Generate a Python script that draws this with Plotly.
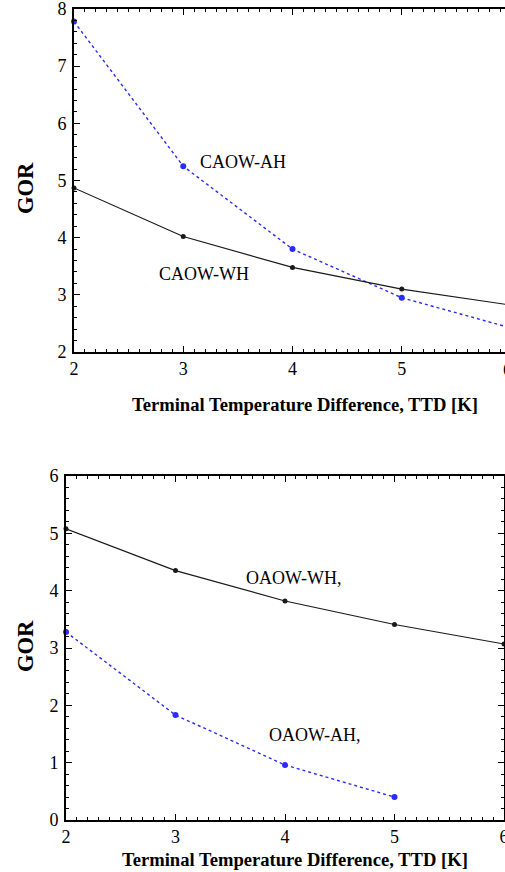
import plotly.graph_objects as go

# ---- data ----
ttd = [2, 3, 4, 5, 6]
caow_ah = [7.78, 5.25, 3.80, 2.95, 2.42]
caow_wh = [4.87, 4.02, 3.48, 3.10, 2.82]
oaow_wh = [5.08, 4.35, 3.82, 3.41, 3.07]
ttd_oah = [2, 3, 4, 5]
oaow_ah = [3.28, 1.83, 0.96, 0.40]

W, H = 505, 872
SERIF = "Liberation Serif, Times New Roman, serif"
BLUE = "#2b2bff"
BLACK = "#1a1a1a"

fig = go.Figure()

def add_series(x, y, xa, ya, color, dash, msize, lw):
    fig.add_trace(go.Scatter(
        x=x, y=y, xaxis=xa, yaxis=ya, mode="lines+markers",
        line=dict(color=color, dash=dash, width=lw),
        marker=dict(color=color, size=msize),
        cliponaxis=False, showlegend=False, hoverinfo="skip"))

add_series(ttd, caow_ah, "x", "y", BLUE, "3px,3px", 6, 1.4)
add_series(ttd, caow_wh, "x", "y", BLACK, "solid", 5, 1.2)
add_series(ttd, oaow_wh, "x2", "y2", BLACK, "solid", 5, 1.2)
add_series(ttd_oah, oaow_ah, "x2", "y2", BLUE, "3px,3px", 6, 1.4)

tickfont = dict(family=SERIF, size=18, color="black")

def xaxis(domain, rng):
    return dict(domain=domain, range=rng, tickmode="array", tickvals=[2, 3, 4, 5, 6],
                ticks="inside", ticklen=6, tickwidth=1, tickcolor="black",
                showline=True, linecolor="black", linewidth=1.6, mirror="ticks",
                showgrid=False, zeroline=False, tickfont=tickfont, automargin=False,
                ticklabeloverflow="allow",
                minor=dict(dtick=0.1, ticks="inside", ticklen=3, tickcolor="black", tickwidth=1))

def yaxis(domain, rng, anchor, mirror):
    return dict(domain=domain, range=rng, dtick=1, anchor=anchor,
                ticks="inside", ticklen=6, tickwidth=1, tickcolor="black",
                showline=True, linecolor="black", linewidth=1.6, mirror=mirror,
                showgrid=False, zeroline=False, tickfont=tickfont, automargin=False,
                ticklabelstandoff=2, ticklabeloverflow="allow",
                minor=dict(dtick=0.2, ticks="inside", ticklen=3, tickcolor="black", tickwidth=1))

x1dom = [74 / W, 1.0]
x1rng = [2, 2 + (W - 74) / 109.25]
x2dom = [66 / W, 504 / W]
y1dom = [1 - 352 / H, 1 - 9 / H]
y2dom = [1 - 820 / H, 1 - 476 / H]

fig.update_layout(
    width=W, height=H, margin=dict(l=0, r=0, t=0, b=0, autoexpand=False),
    paper_bgcolor="white", plot_bgcolor="white",
    xaxis=dict(**xaxis(x1dom, x1rng), anchor="y"),
    yaxis=yaxis(y1dom, [2, 8], "x", False),
    xaxis2=dict(**xaxis(x2dom, [2, 6]), anchor="y2"),
    yaxis2=yaxis(y2dom, [0, 6], "x2", "ticks"),
)

ann = []
lab = dict(family=SERIF, size=18, color="black")
ann.append(dict(text="CAOW-AH", x=3.135, y=5.32, xref="x", yref="y", xanchor="left", yanchor="middle", showarrow=False, font=lab))
ann.append(dict(text="CAOW-WH", x=2.76, y=3.36, xref="x", yref="y", xanchor="left", yanchor="middle", showarrow=False, font=lab))
ann.append(dict(text="OAOW-WH,", x=3.63, y=4.22, xref="x2", yref="y2", xanchor="left", yanchor="middle", showarrow=False, font=lab))
ann.append(dict(text="OAOW-AH,", x=3.84, y=1.48, xref="x2", yref="y2", xanchor="left", yanchor="middle", showarrow=False, font=lab))
# clipped "6" tick label of the top chart (lies beyond the window edge)
ann.append(dict(text="6", x=507.5 / W, y=1 - 370 / H, xref="paper", yref="paper", xanchor="center", yanchor="middle", showarrow=False, font=tickfont))

tf = dict(family=SERIF, size=18.6, color="black")
for xc, yc in ((304.5, 405), (295, 859)):
    ann.append(dict(text="<b>Terminal Temperature Difference, TTD [K]</b>", x=xc / W,
                    y=1 - yc / H, xref="paper", yref="paper", xanchor="center", yanchor="middle",
                    showarrow=False, font=tf))
for yc in (188, 646):
    ann.append(dict(text="<b>GOR</b>", x=25 / W, y=1 - yc / H, xref="paper", yref="paper",
                    xanchor="center", yanchor="middle", textangle=-90, showarrow=False,
                    font=dict(family=SERIF, size=22.5, color="black")))
fig.update_layout(annotations=ann)

fig.write_html("out.html", config={"displayModeBar": False},
               post_script="document.body.style.margin='0';document.body.style.overflow='hidden';")
